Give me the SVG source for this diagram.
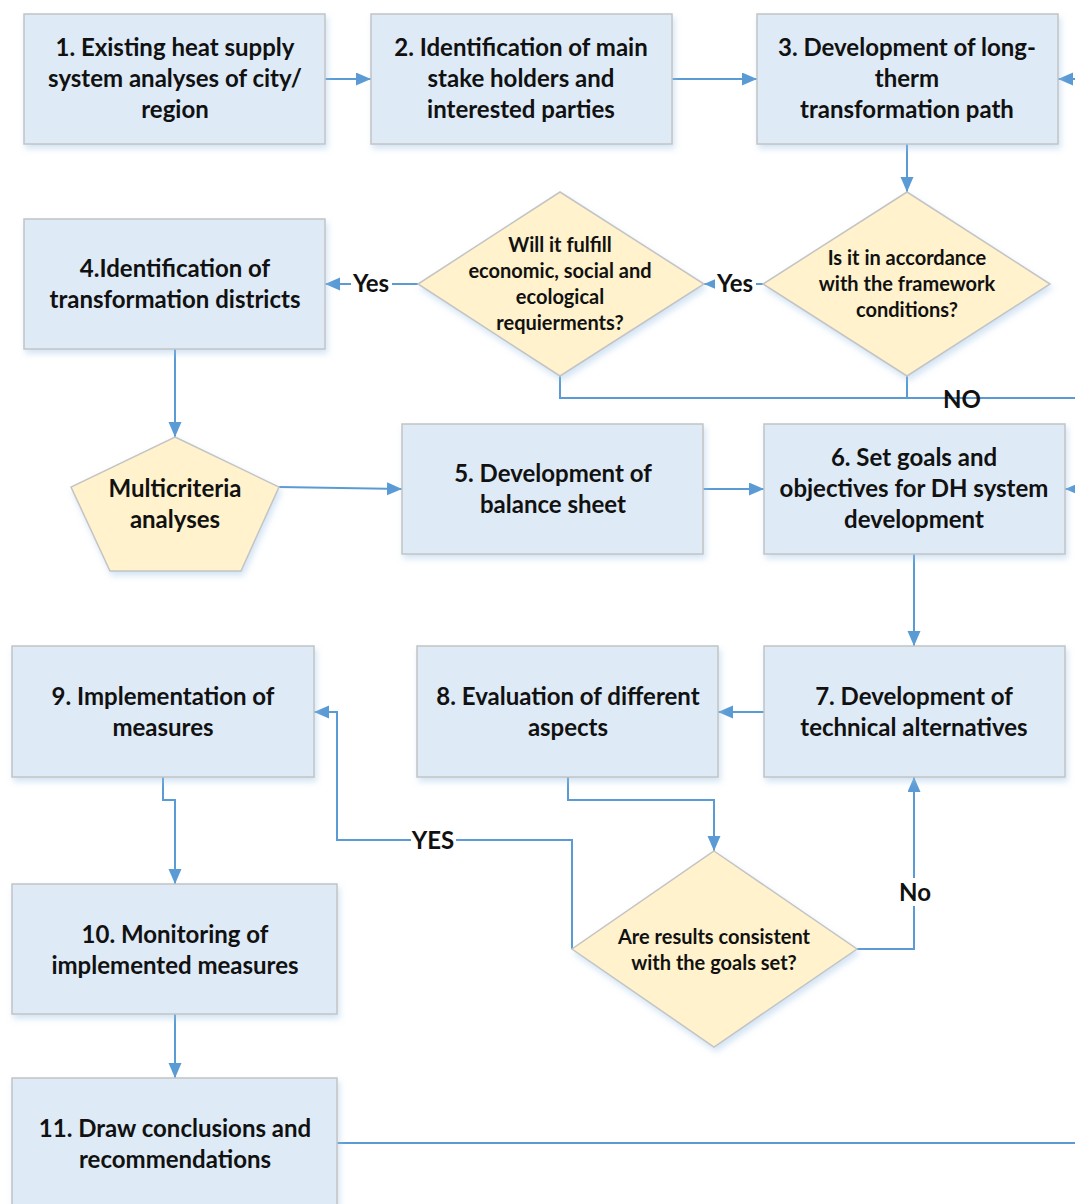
<svg xmlns="http://www.w3.org/2000/svg" width="1075" height="1204" viewBox="0 0 1075 1204">
<defs>
<filter id="sh" x="-10%" y="-10%" width="125%" height="130%">
<feDropShadow dx="2" dy="4" stdDeviation="3" flood-color="#9DC3E6" flood-opacity="0.45"/>
</filter>
<marker id="ah" markerWidth="16" markerHeight="14" refX="15" refY="6.5" orient="auto" markerUnits="userSpaceOnUse">
<path d="M0,0 L15,6.5 L0,13 z" fill="#5B9BD5"/>
</marker>
</defs>
<style>
.box{fill:#DEEAF6;stroke:#C4C4C4;stroke-width:1.5;filter:url(#sh)}
.dia{fill:#FFF2CC;stroke:#C4C4C4;stroke-width:1.5;filter:url(#sh)}
.t{font-family:Lato,"Open Sans","Liberation Sans",sans-serif;font-weight:700;font-size:24px;fill:#111;text-anchor:middle}
.s{font-family:Lato,"Open Sans","Liberation Sans",sans-serif;font-weight:700;font-size:20px;fill:#111;text-anchor:middle}
.c{fill:none;stroke:#5B9BD5;stroke-width:2}
.a{marker-end:url(#ah)}
.bg{fill:#fff}
</style>
<rect width="1075" height="1204" fill="#fff"/>

<g id="connectors">
<line class="c a" x1="325" y1="79" x2="371" y2="79"/>
<line class="c a" x1="672" y1="79" x2="757" y2="79"/>
<line class="c a" x1="1085" y1="79" x2="1058" y2="79"/>
<line class="c a" x1="907" y1="144" x2="907" y2="192"/>
<line class="c a" x1="763" y1="284" x2="704" y2="284"/>
<line class="c a" x1="418" y1="284" x2="325" y2="284"/>
<polyline class="c" points="560,376 560,398 1085,398"/>
<line class="c" x1="907" y1="376" x2="907" y2="398"/>
<line class="c a" x1="175" y1="349" x2="175" y2="437"/>
<line class="c a" x1="279" y1="487" x2="402" y2="489"/>
<line class="c a" x1="703" y1="489" x2="764" y2="489"/>
<line class="c a" x1="1085" y1="489" x2="1065" y2="489"/>
<line class="c a" x1="914" y1="554" x2="914" y2="646"/>
<line class="c a" x1="764" y1="712" x2="718" y2="712"/>
<polyline class="c a" points="568,777 568,800 714,800 714,851"/>
<polyline class="c a" points="857,949 914,949 914,777"/>
<polyline class="c a" points="572,949 572,840 337,840 337,712 314,712"/>
<polyline class="c a" points="163,777 163,800 175,800 175,884"/>
<line class="c a" x1="175" y1="1014" x2="175" y2="1078"/>
<line class="c" x1="337" y1="1143" x2="1085" y2="1143"/>
<rect class="bg" x="351" y="271" width="41" height="27"/>
<text class="t" x="371" y="292">Yes</text>
<rect class="bg" x="715" y="271" width="41" height="27"/>
<text class="t" x="735" y="292">Yes</text>
<text class="t" x="962" y="408">NO</text>
<rect class="bg" x="411" y="827" width="45" height="26"/>
<text class="t" x="433" y="849">YES</text>
<rect class="bg" x="900" y="878" width="30" height="28"/>
<text class="t" x="915" y="901">No</text>
</g>

<g id="n1"><rect class="box" x="24" y="14" width="301" height="130"/>
<text class="t" x="175" y="56">1. Existing heat supply</text>
<text class="t" x="175" y="87">system analyses of city/</text>
<text class="t" x="175" y="118">region</text></g>

<g id="n2"><rect class="box" x="371" y="14" width="301" height="130"/>
<text class="t" x="521" y="56">2. Identification of main</text>
<text class="t" x="521" y="87">stake holders and</text>
<text class="t" x="521" y="118">interested parties</text></g>

<g id="n3"><rect class="box" x="757" y="14" width="301" height="130"/>
<text class="t" x="907" y="56">3. Development of long-</text>
<text class="t" x="907" y="87">therm</text>
<text class="t" x="907" y="118">transformation path</text></g>

<g id="n4"><rect class="box" x="24" y="219" width="301" height="130"/>
<text class="t" x="175" y="277">4.Identification of</text>
<text class="t" x="175" y="308">transformation districts</text></g>

<g id="d1"><polygon class="dia" points="560,192 704,284 560,376 418,284"/>
<text class="s" x="560" y="252">Will it fulfill</text>
<text class="s" x="560" y="278">economic, social and</text>
<text class="s" x="560" y="304">ecological</text>
<text class="s" x="560" y="330">requierments?</text></g>

<g id="d2"><polygon class="dia" points="907,192 1050,284 907,376 763,284"/>
<text class="s" x="907" y="265">Is it in accordance</text>
<text class="s" x="907" y="291">with the framework</text>
<text class="s" x="907" y="317">conditions?</text></g>

<g id="p1"><polygon class="dia" points="175,437 279,487 241,571 110,571 71,487"/>
<text class="t" x="175" y="497">Multicriteria</text>
<text class="t" x="175" y="528">analyses</text></g>

<g id="n5"><rect class="box" x="402" y="424" width="301" height="130"/>
<text class="t" x="553" y="482">5. Development of</text>
<text class="t" x="553" y="513">balance sheet</text></g>

<g id="n6"><rect class="box" x="764" y="424" width="301" height="130"/>
<text class="t" x="914" y="466">6. Set goals and</text>
<text class="t" x="914" y="497">objectives for DH system</text>
<text class="t" x="914" y="528">development</text></g>

<g id="n7"><rect class="box" x="764" y="646" width="301" height="131"/>
<text class="t" x="914" y="705">7. Development of</text>
<text class="t" x="914" y="736">technical alternatives</text></g>

<g id="n8"><rect class="box" x="417" y="646" width="301" height="131"/>
<text class="t" x="568" y="705">8. Evaluation of different</text>
<text class="t" x="568" y="736">aspects</text></g>

<g id="n9"><rect class="box" x="12" y="646" width="302" height="131"/>
<text class="t" x="163" y="705">9. Implementation of</text>
<text class="t" x="163" y="736">measures</text></g>

<g id="d3"><polygon class="dia" points="714,851 857,949 714,1047 572,949"/>
<text class="s" x="714" y="944">Are results consistent</text>
<text class="s" x="714" y="970">with the goals set?</text></g>

<g id="n10"><rect class="box" x="12" y="884" width="325" height="130"/>
<text class="t" x="175" y="943">10. Monitoring of</text>
<text class="t" x="175" y="974">implemented measures</text></g>

<g id="n11"><rect class="box" x="12" y="1078" width="325" height="140"/>
<text class="t" x="175" y="1137">11. Draw conclusions and</text>
<text class="t" x="175" y="1168">recommendations</text></g>
</svg>
